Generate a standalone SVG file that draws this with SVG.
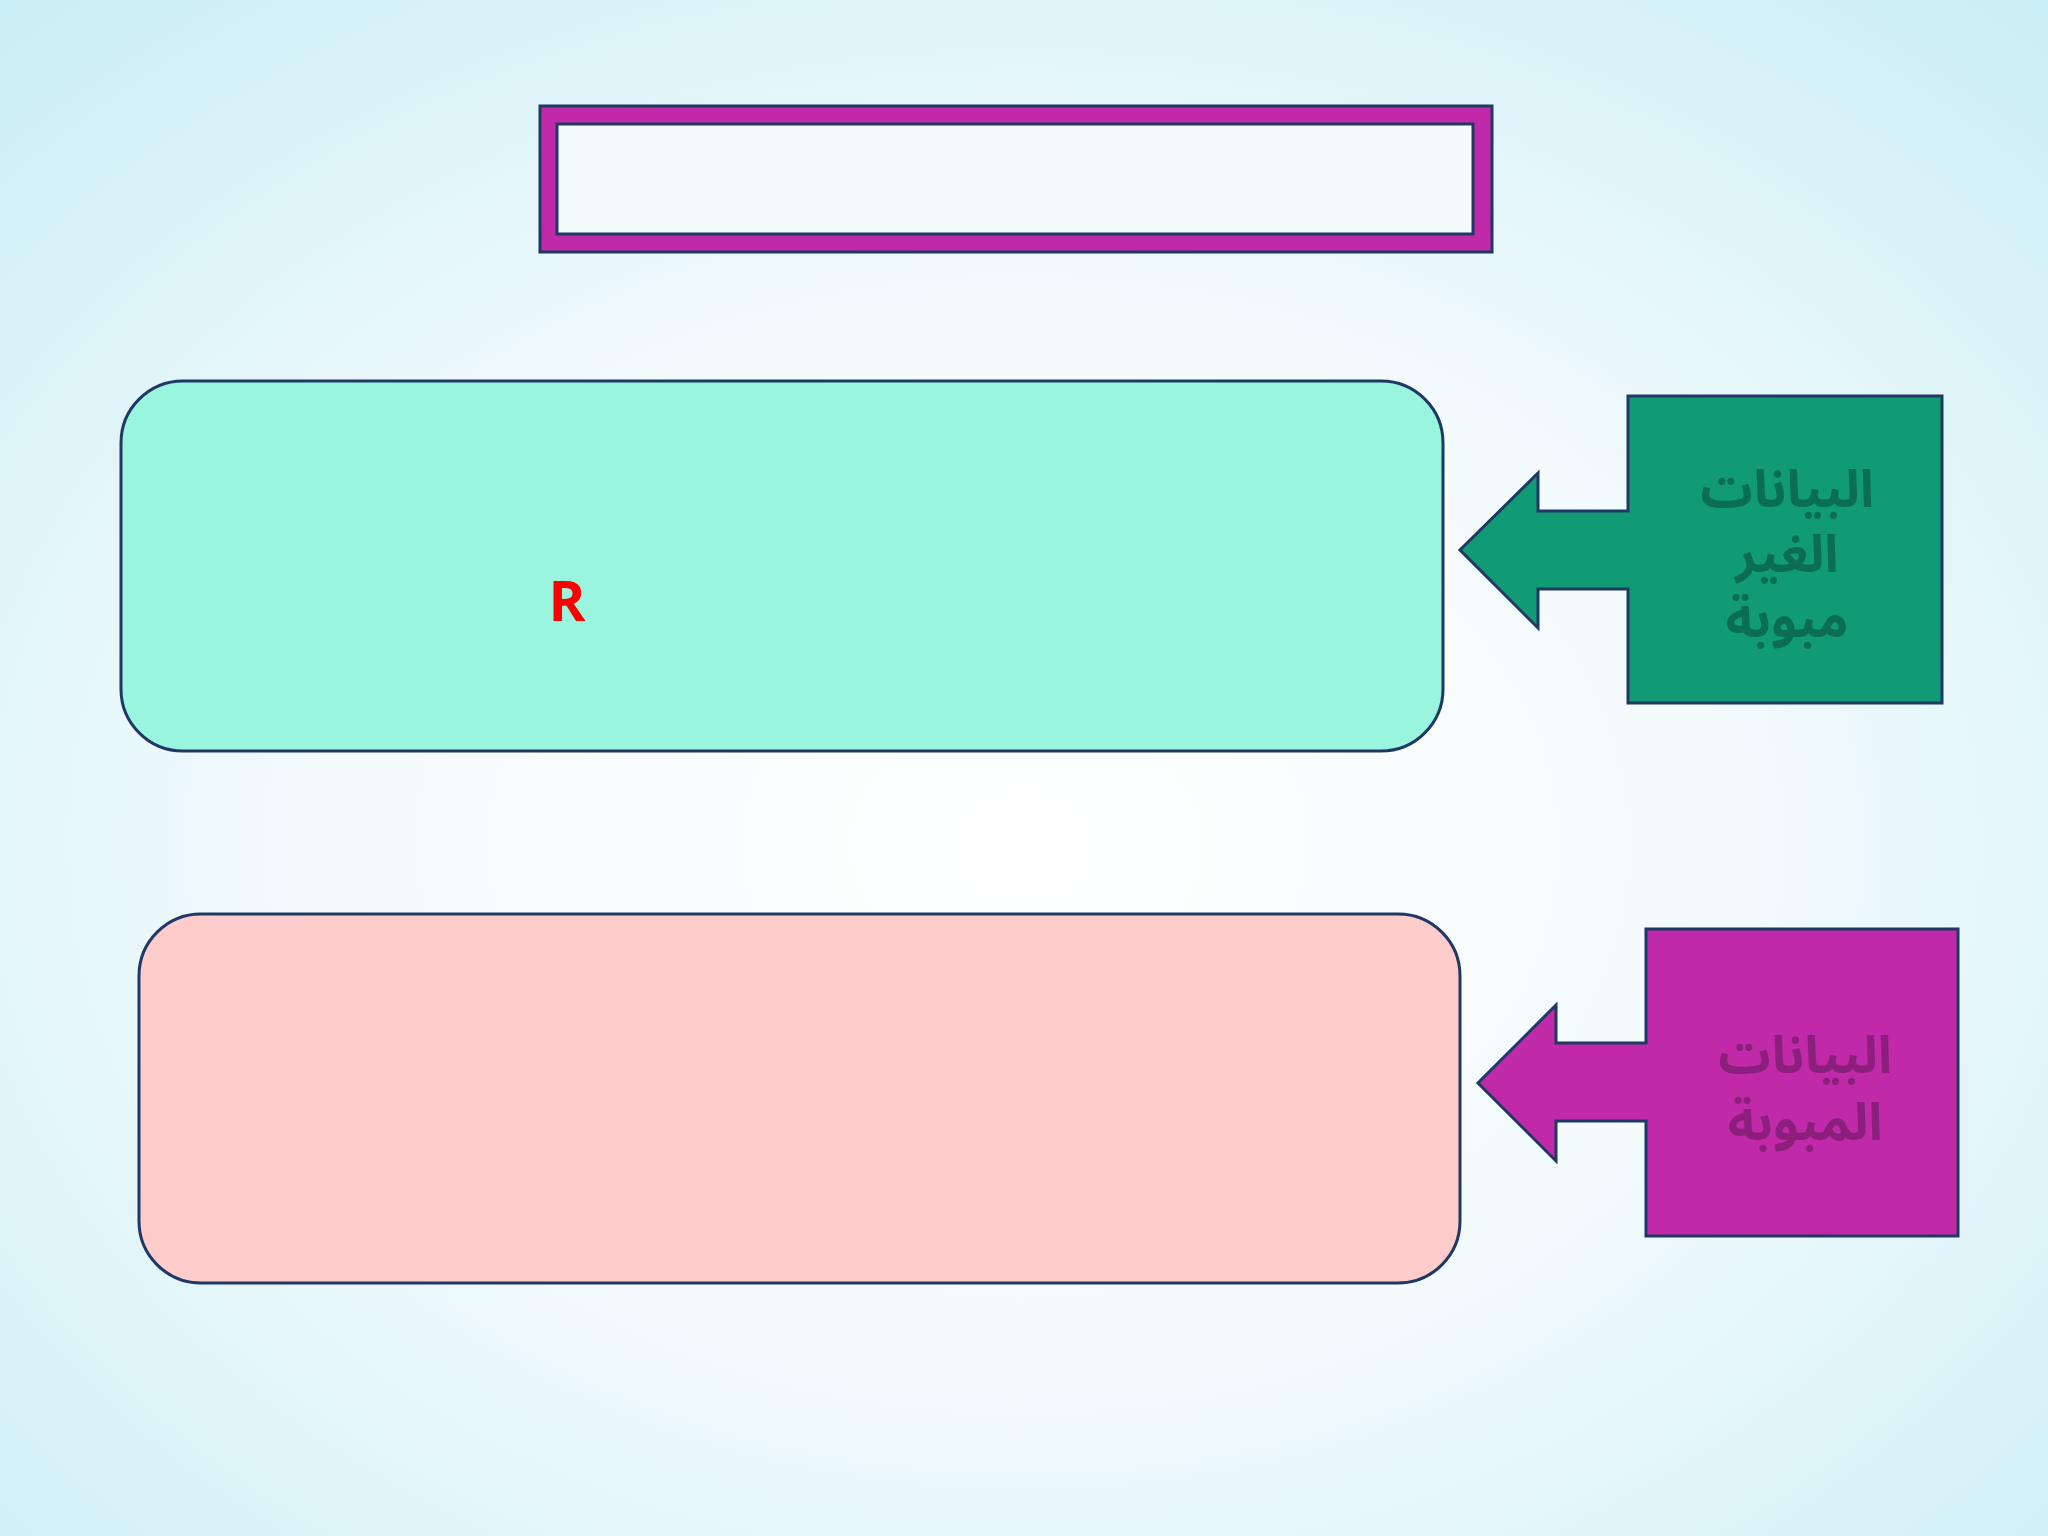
<svg xmlns="http://www.w3.org/2000/svg" width="2048" height="1536" viewBox="0 0 2048 1536">
<defs>
<radialGradient id="bg" cx="50%" cy="55%" r="75%">
<stop offset="0" stop-color="#ffffff"/>
<stop offset="0.45" stop-color="#f4fbfd"/>
<stop offset="1" stop-color="#c9eef5"/>
</radialGradient>
<style>
.st{stroke:#1F3864;stroke-width:3;}
.ar{font-family:"Noto Sans Arabic","DejaVu Sans",sans-serif;font-weight:bold;font-size:52px;text-anchor:middle;}
</style>
</defs>
<rect x="0" y="0" width="2048" height="1536" fill="url(#bg)"/>
<g id="title">
<rect class="st" x="540" y="106" width="952" height="146" fill="#C02AA8"/>
<rect class="st" x="557" y="124" width="916" height="110" fill="#F3FBFD"/>
</g>
<g id="box1">
<rect class="st" x="121" y="381" width="1322" height="370" rx="62" ry="62" fill="#99F5DE"/>
<text x="567" y="621" font-family="Open Sans, Liberation Sans, sans-serif" font-weight="bold" font-size="56" fill="#FF0000" text-anchor="middle">R</text>
</g>
<g id="box2">
<rect class="st" x="139" y="914" width="1321" height="369" rx="62" ry="62" fill="#FFCCCC"/>
</g>
<g id="label1">
<path class="st" d="M1628,396 H1942 V703 H1628 V589 H1538 V628 L1460,550 L1538,473 V511 H1628 Z" fill="#109B75"/>
<text class="ar" x="1787" y="507" fill="#0B6E52">البيانات</text>
<text class="ar" x="1787" y="572" fill="#0B6E52">الغير</text>
<text class="ar" x="1787" y="637" fill="#0B6E52">مبوبة</text>
</g>
<g id="label2">
<path class="st" d="M1646,929 H1958 V1236 H1646 V1121 H1556 V1161 L1478,1083 L1556,1005 V1043 H1646 Z" fill="#C02AA8"/>
<text class="ar" x="1805" y="1073" fill="#8C1E7C">البيانات</text>
<text class="ar" x="1805" y="1140" fill="#8C1E7C">المبوبة</text>
</g>
<g id="connectors"></g>
</svg>
